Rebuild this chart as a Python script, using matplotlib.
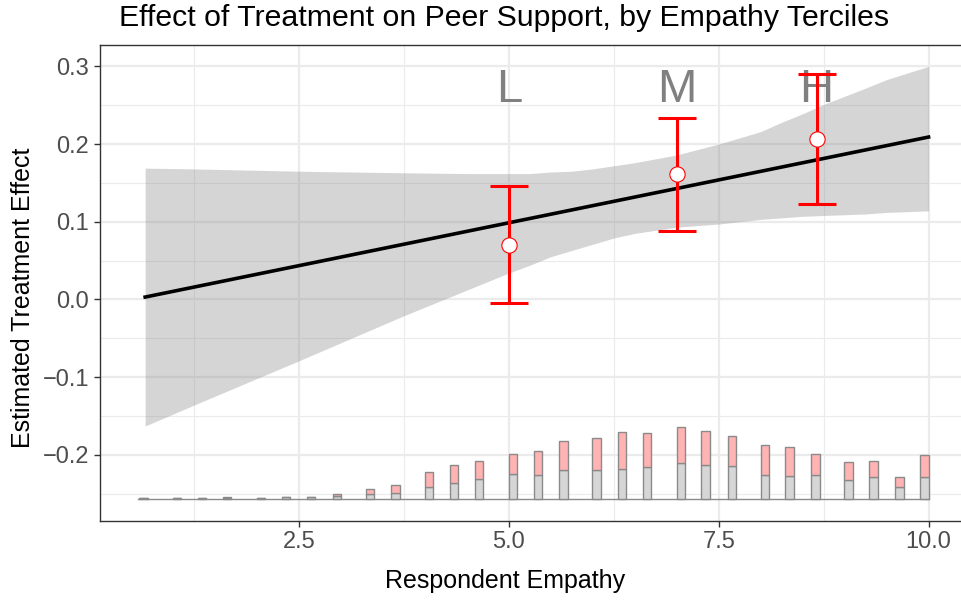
import numpy as np
import matplotlib
matplotlib.use('Agg')
import matplotlib.pyplot as plt

plt.rcParams['font.family'] = ['Liberation Sans', 'DejaVu Sans']

# Linear marginal effect (end points of the fitted line)
line_x = [0.667, 10.0]
line_y = [0.003, 0.209]

# 95% band around the linear fit, read at a set of points
band_x = [0.667, 1.25, 2.5, 3.75, 4.5, 5.0, 5.25, 5.5, 5.75, 6.0, 6.25, 6.5,
          7.0, 7.25, 7.5, 7.75, 8.0, 8.25, 8.5, 8.75, 9.25, 9.5, 10.0]
band_hi = [0.169, 0.168, 0.165, 0.163, 0.162, 0.162, 0.162, 0.164, 0.165, 0.168, 0.172, 0.176,
           0.186, 0.193, 0.200, 0.208, 0.216, 0.228, 0.239, 0.251, 0.272, 0.283, 0.300]
band_lo = [-0.163, -0.136, -0.079, -0.021, 0.012, 0.034, 0.044, 0.055, 0.063, 0.071, 0.079, 0.085,
           0.093, 0.095, 0.097, 0.100, 0.103, 0.105, 0.107, 0.108, 0.110, 0.112, 0.114]

# Binned (tercile) estimates
terc_labels = ['L', 'M', 'H']
terc_x = [5.0, 7.0, 8.667]
terc_est = [0.070, 0.161, 0.206]
terc_lo = [-0.005, 0.088, 0.123]
terc_hi = [0.146, 0.233, 0.290]
label_y = 0.254

# Distribution of the moderator: control (grey) and treated (pink) counts
hist_x = [0.646, 1.044, 1.342, 1.640, 2.044, 2.342, 2.643, 2.949, 3.345, 3.651,
          4.048, 4.345, 4.643, 5.048, 5.345, 5.651, 6.044, 6.345, 6.649, 7.048,
          7.345, 7.655, 8.048, 8.345, 8.655, 9.048, 9.345, 9.655, 9.952]
hist_ctrl = [1.0, 1.0, 1.0, 1.0, 1.0, 2.0, 2.3, 3.0, 5.3, 6.7,
             12.0, 16.7, 20.0, 25.0, 24.0, 29.7, 29.7, 30.3, 32.3, 36.0,
             34.7, 33.3, 24.3, 23.3, 24.3, 19.0, 22.3, 12.0, 22.3]
hist_trt = [0.0, 0.0, 0.0, 1.7, 0.0, 0.7, 0.0, 2.7, 5.4, 8.0,
            15.7, 18.0, 18.7, 20.7, 24.3, 28.6, 32.0, 37.0, 34.4, 36.3,
            33.6, 30.4, 30.4, 29.0, 20.7, 18.7, 16.4, 10.7, 22.4]
hist_base = -0.2574
hist_height = 0.093

W, H = 962, 601
fig = plt.figure(figsize=(W / 100, H / 100), dpi=100)
ax = fig.add_axes([99.5 / W, (H - 521) / H, (968 - 99.5) / W, (521 - 44.7) / H])

# histogram at the bottom
total = np.array(hist_ctrl) + np.array(hist_trt)
scale = hist_height / total.max()
ctrl_h = np.array(hist_ctrl) * scale
trt_h = np.array(hist_trt) * scale
ax.plot([0.58, 10.0], [hist_base, hist_base], color='#8a8a8a', lw=1.0, zorder=2)
ax.bar(hist_x, ctrl_h, width=0.1, bottom=hist_base, color='#d6d6d6',
       edgecolor='#8a8a8a', linewidth=1.0, zorder=2)
ax.bar(hist_x, trt_h, width=0.1, bottom=hist_base + ctrl_h, color='#ffb3b3',
       edgecolor='#8a8a8a', linewidth=1.0, zorder=2)

# band and line
ax.fill_between(band_x, band_lo, band_hi, color='#7f7f7f', alpha=0.32,
                linewidth=0, zorder=3)
ax.plot(line_x, line_y, color='black', lw=2.6, zorder=4)

# tercile estimates
yerr = [np.array(terc_est) - np.array(terc_lo), np.array(terc_hi) - np.array(terc_est)]
ax.errorbar(terc_x, terc_est, yerr=yerr, fmt='none', ecolor='#ff0000',
            elinewidth=2.2, capsize=14, capthick=2.2, zorder=5)
ax.plot(terc_x, terc_est, 'o', ms=11, mfc='white', mec='#ff0000', mew=0.8, zorder=6)
for lab, xx in zip(terc_labels, terc_x):
    ax.text(xx, label_y, lab, ha='center', va='baseline', fontsize=34,
            color='#808080', zorder=4)

ax.set_xlim(0.123, 10.47)
ax.set_ylim(-0.2853, 0.3279)

ax.set_xticks([2.5, 5.0, 7.5, 10.0])
ax.set_xticklabels(['2.5', '5.0', '7.5', '10.0'])
ax.set_yticks([-0.2, -0.1, 0.0, 0.1, 0.2, 0.3])
ax.set_yticklabels(['\u22120.2', '\u22120.1', '0.0', '0.1', '0.2', '0.3'])
ax.set_xticks([1.25, 3.75, 6.25, 8.75], minor=True)
ax.set_yticks([-0.25, -0.15, -0.05, 0.05, 0.15, 0.25], minor=True)
ax.grid(which='major', color='#ebebeb', lw=1.6, zorder=0)
ax.grid(which='minor', color='#ebebeb', lw=0.8, zorder=0)
ax.set_axisbelow(True)
ax.tick_params(which='major', length=4.5, width=1.0, color='#333333',
               labelsize=17, labelcolor='#4d4d4d', pad=3)
ax.tick_params(which='minor', length=0)
for sp in ax.spines.values():
    sp.set_color('#333333')
    sp.set_linewidth(1.0)

ax.set_xlabel('Respondent Empathy', fontsize=18)
ax.set_ylabel('Estimated Treatment Effect', fontsize=18)
ax.xaxis.set_label_coords((505 - 99.5) / 868.5, -(569 - 521) / 476.3)
ax.yaxis.set_label_coords(-(99.5 - 35) / 868.5, (521 - 298) / 476.3)
fig.text(504.5 / W, 1 - 18 / H, 'Effect of Treatment on Peer Support, by Empathy Terciles',
         ha='center', va='center', fontsize=21.8)

fig.savefig('out.png', dpi=100)
